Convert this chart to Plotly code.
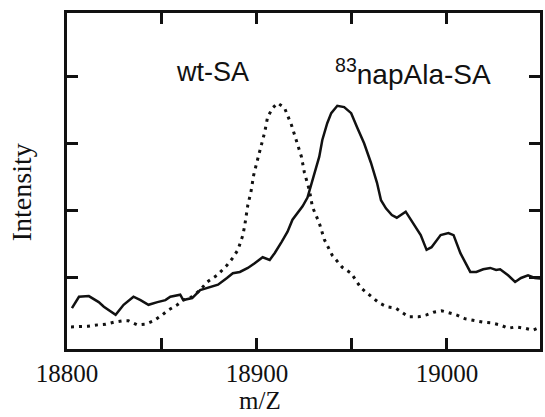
import plotly.graph_objects as go

# wt-SA (dotted) spectrum
wt_mz = [18802.1, 18811.0, 18816.2, 18820.4, 18824.6, 18829.3, 18832.4, 18837.1, 18841.3,
         18845.5, 18850.2, 18853.3, 18858.1, 18861.2, 18865.9, 18870.1, 18873.7, 18879.0,
         18884.2, 18887.3, 18890.0, 18892.6, 18893.6, 18895.2, 18896.8, 18898.3, 18899.9,
         18902.5, 18904.1, 18905.6, 18908.3, 18910.9, 18914.5, 18918.2, 18920.8, 18923.4,
         18925.0, 18927.6, 18929.2, 18932.8, 18935.5, 18939.6, 18944.9, 18949.6, 18954.8,
         18960.0, 18964.2, 18968.4, 18973.1, 18979.9, 18985.1, 18989.3, 18993.0, 18997.2,
         19001.9, 19005.0, 19009.7, 19015.0, 19019.1, 19023.3, 19028.0, 19032.2, 19036.4,
         19041.1, 19045.3, 19049.5]
wt_int = [0.27, 0.28, 0.30, 0.31, 0.34, 0.36, 0.36, 0.30, 0.31,
          0.36, 0.45, 0.52, 0.60, 0.67, 0.72, 0.82, 0.94, 1.04,
          1.19, 1.30, 1.42, 1.64, 1.79, 2.09, 2.28, 2.54, 2.72,
          3.01, 3.18, 3.40, 3.54, 3.61, 3.54, 3.28, 3.06, 2.81,
          2.57, 2.31, 2.06, 1.82, 1.57, 1.34, 1.16, 1.07, 0.85,
          0.72, 0.63, 0.57, 0.55, 0.42, 0.42, 0.45, 0.49, 0.51,
          0.48, 0.45, 0.39, 0.36, 0.34, 0.33, 0.30, 0.25, 0.27,
          0.25, 0.22, 0.27]

# 83napAla-SA (solid) spectrum
nap_mz = [18802.6, 18806.3, 18811.5, 18816.7, 18819.4, 18825.6, 18829.8, 18835.0, 18838.7,
          18842.9, 18847.6, 18851.8, 18854.4, 18859.6, 18861.2, 18865.9, 18870.1, 18875.3,
          18879.5, 18884.2, 18887.3, 18891.0, 18895.2, 18898.8, 18903.0, 18906.7, 18909.3,
          18913.0, 18916.1, 18918.7, 18921.3, 18924.0, 18926.6, 18930.2, 18932.8, 18934.4,
          18937.0, 18939.1, 18942.3, 18945.9, 18949.6, 18952.7, 18956.4, 18960.0, 18963.2,
          18965.3, 18967.9, 18971.0, 18973.6, 18978.3, 18981.5, 18986.2, 18989.3, 18991.9,
          18996.7, 19000.8, 19003.5, 19007.1, 19012.3, 19015.5, 19019.1, 19022.8, 19025.9,
          19028.0, 19032.2, 19035.9, 19039.0, 19042.7, 19046.3, 19049.5]
nap_int = [0.55, 0.72, 0.73, 0.64, 0.57, 0.45, 0.60, 0.72, 0.67,
           0.60, 0.64, 0.67, 0.72, 0.75, 0.67, 0.70, 0.82, 0.87,
           0.90, 1.00, 1.07, 1.09, 1.15, 1.22, 1.31, 1.27, 1.37,
           1.54, 1.69, 1.87, 1.97, 2.07, 2.20, 2.57, 2.81, 3.06,
           3.31, 3.46, 3.57, 3.55, 3.46, 3.25, 3.01, 2.72, 2.42,
           2.16, 2.04, 1.94, 1.90, 1.99, 1.84, 1.64, 1.42, 1.46,
           1.64, 1.67, 1.64, 1.37, 1.09, 1.09, 1.13, 1.15, 1.12,
           1.13, 1.04, 0.94, 1.00, 1.04, 1.00, 0.99]

x_tickvals = [18800, 18850, 18900, 18950, 19000]
x_ticktext = ["18800", " ", "18900", " ", "19000"]
y_tickvals = [1, 2, 3, 4]

fig = go.Figure()
fig.add_trace(go.Scatter(x=wt_mz, y=wt_int, mode="lines",
                         line=dict(color="#111111", width=3, dash="3px,5px"),
                         showlegend=False))
fig.add_trace(go.Scatter(x=nap_mz, y=nap_int, mode="lines",
                         line=dict(color="#111111", width=2.5),
                         showlegend=False))

fig.update_layout(
    width=545, height=417,
    margin=dict(l=67, r=2, t=13, b=68),
    paper_bgcolor="white", plot_bgcolor="white",
    xaxis=dict(range=[18800, 19049], tickmode="array", tickvals=x_tickvals, ticktext=x_ticktext,
               ticks="inside", ticklen=11, tickwidth=3, tickcolor="#111111",
               showline=True, linewidth=3, linecolor="#111111", mirror="ticks",
               showgrid=False, zeroline=False,
               tickfont=dict(family="Liberation Serif", size=25, color="#111111")),
    yaxis=dict(range=[-0.06, 4.955], tickvals=y_tickvals, showticklabels=False,
               ticks="inside", ticklen=11, tickwidth=3, tickcolor="#111111",
               showline=True, linewidth=3, linecolor="#111111", mirror="ticks",
               showgrid=False, zeroline=False),
    annotations=[
        dict(text="m/Z", xref="paper", yref="paper", x=(261 - 67) / 476, y=(349 - 416) / 336,
             xanchor="center", yanchor="bottom", showarrow=False,
             font=dict(family="Liberation Serif", size=25, color="#111111")),
        dict(text="Intensity", xref="paper", yref="paper", x=(21 - 67) / 476, y=(349 - 192) / 336,
             xanchor="center", yanchor="middle", showarrow=False, textangle=-90,
             font=dict(family="Liberation Serif", size=28, color="#111111")),
        dict(text="wt-SA", xref="x", yref="y", x=18876.4, y=4.07,
             xanchor="center", yanchor="middle", showarrow=False,
             font=dict(family="Liberation Sans", size=27, color="#111111")),
        dict(text="<sup>83</sup>napAla-SA", xref="x", yref="y", x=18982, y=4.07,
             xanchor="center", yanchor="middle", showarrow=False,
             font=dict(family="Liberation Sans", size=28, color="#111111")),
    ],
)

fig.write_html("out.html")
